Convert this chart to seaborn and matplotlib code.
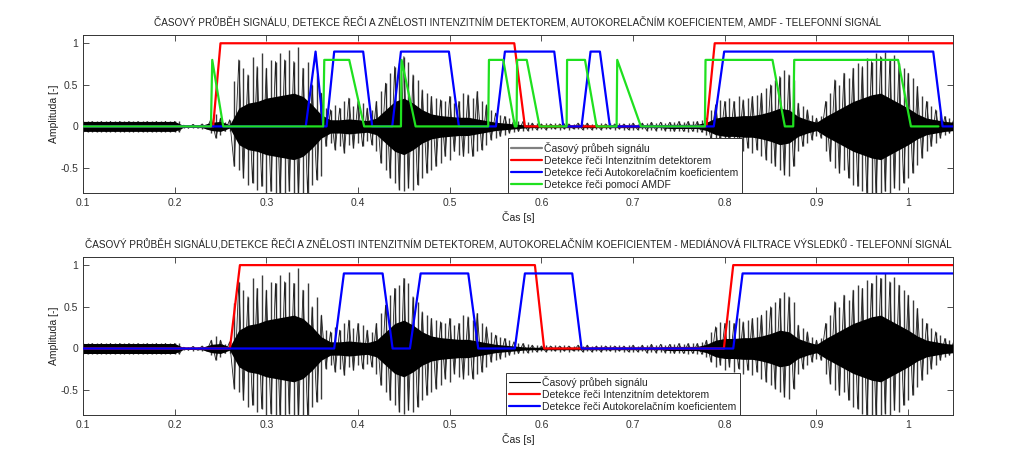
import numpy as np
import matplotlib
matplotlib.use("Agg")
import matplotlib.pyplot as plt
from matplotlib.lines import Line2D
import seaborn as sns


# ─── Signal envelope (same signal in both panels) ────────────────────────────
# spike tips, one value every 5 ms from 0.100 s to 1.050 s
SIG_UPPER = [
    0.06, 0.06, 0.06, 0.06, 0.06, 0.06, 0.06, 0.06, 0.06, 0.06,    # 0.100
    0.06, 0.06, 0.06, 0.06, 0.06, 0.06, 0.06, 0.06, 0.06, 0.06,    # 0.150
    0.06, 0.06, 0.015, 0.02, 0.025, 0.02, 0.03, 0.03, 0.10, 0.15,  # 0.200
    0.10, 0.05, 0.08, 0.55, 0.80, 0.70, 0.62, 0.84, 0.72, 0.88,    # 0.250
    0.70, 0.80, 0.78, 0.88, 0.80, 0.92, 0.78, 0.96, 0.70, 0.78,    # 0.300
    0.50, 0.62, 0.40, 0.22, 0.20, 0.26, 0.22, 0.30, 0.34, 0.24,    # 0.350
    0.30, 0.28, 0.22, 0.20, 0.30, 0.42, 0.52, 0.64, 0.72, 0.76,    # 0.400
    0.84, 0.78, 0.62, 0.56, 0.44, 0.40, 0.36, 0.34, 0.32, 0.30,    # 0.450
    0.36, 0.28, 0.30, 0.40, 0.38, 0.34, 0.42, 0.30, 0.26, 0.20,    # 0.500
    0.16, 0.14, 0.12, 0.10, 0.08, 0.07, 0.06, 0.05, 0.04, 0.04,    # 0.550
    0.03, 0.04, 0.03, 0.04, 0.03, 0.04, 0.03, 0.03, 0.04, 0.03,    # 0.600
    0.04, 0.03, 0.03, 0.04, 0.03, 0.04, 0.03, 0.04, 0.03, 0.04,    # 0.650
    0.04, 0.03, 0.04, 0.04, 0.05, 0.04, 0.05, 0.04, 0.05, 0.05,    # 0.700
    0.06, 0.05, 0.06, 0.07, 0.06, 0.08, 0.10, 0.20, 0.26, 0.32,    # 0.750
    0.30, 0.34, 0.30, 0.36, 0.32, 0.34, 0.36, 0.38, 0.40, 0.46,    # 0.800
    0.50, 0.56, 0.60, 0.68, 0.62, 0.56, 0.28, 0.24, 0.20, 0.14,    # 0.850
    0.10, 0.12, 0.30, 0.40, 0.56, 0.50, 0.64, 0.58, 0.70, 0.76,    # 0.900
    0.72, 0.82, 0.78, 0.88, 0.84, 0.90, 0.80, 0.86, 0.76, 0.70,    # 0.950
    0.64, 0.58, 0.48, 0.36, 0.30, 0.24, 0.20, 0.16, 0.12, 0.10,    # 1.000
    0.10,                                                          # 1.050
]
SIG_LOWER = [
    -0.065, -0.065, -0.065, -0.065, -0.065, -0.065, -0.065, -0.065, -0.065, -0.065,
    -0.065, -0.065, -0.065, -0.065, -0.065, -0.065, -0.065, -0.065, -0.065, -0.065,
    -0.065, -0.065, -0.02, -0.02, -0.025, -0.02, -0.03, -0.03, -0.08, -0.14,
    -0.10, -0.06, -0.06, -0.48, -0.52, -0.62, -0.70, -0.68, -0.76, -0.72,
    -0.85, -0.78, -0.85, -0.85, -0.80, -0.78, -0.85, -0.85, -0.85, -0.80,
    -0.70, -0.64, -0.60, -0.24, -0.20, -0.28, -0.24, -0.32, -0.22, -0.26,
    -0.20, -0.24, -0.18, -0.22, -0.30, -0.44, -0.52, -0.62, -0.68, -0.76,
    -0.78, -0.74, -0.76, -0.70, -0.62, -0.56, -0.52, -0.48, -0.44, -0.36,
    -0.40, -0.30, -0.34, -0.36, -0.32, -0.36, -0.30, -0.28, -0.22, -0.16,
    -0.14, -0.12, -0.10, -0.08, -0.07, -0.06, -0.05, -0.05, -0.04, -0.04,
    -0.03, -0.04, -0.03, -0.03, -0.04, -0.03, -0.04, -0.03, -0.03, -0.04,
    -0.03, -0.04, -0.03, -0.04, -0.03, -0.03, -0.04, -0.03, -0.04, -0.04,
    -0.04, -0.04, -0.03, -0.05, -0.04, -0.05, -0.04, -0.05, -0.05, -0.06,
    -0.05, -0.06, -0.07, -0.06, -0.07, -0.07, -0.10, -0.16, -0.22, -0.20,
    -0.26, -0.22, -0.28, -0.24, -0.30, -0.26, -0.32, -0.28, -0.36, -0.40,
    -0.44, -0.48, -0.52, -0.58, -0.60, -0.48, -0.30, -0.24, -0.20, -0.16,
    -0.12, -0.14, -0.30, -0.42, -0.50, -0.56, -0.52, -0.62, -0.70, -0.72,
    -0.78, -0.85, -0.85, -0.85, -0.85, -0.78, -0.85, -0.74, -0.76, -0.68,
    -0.62, -0.56, -0.46, -0.38, -0.30, -0.24, -0.20, -0.14, -0.10, -0.08,
    -0.08,
]
# dense black core, one value every 10 ms from 0.10 s to 1.05 s
SIG_CORE = [
    0.06, 0.06, 0.06, 0.06, 0.06, 0.06, 0.06, 0.06, 0.06, 0.06,    # 0.10
    0.06, 0.01, 0.012, 0.015, 0.05, 0.06, 0.02, 0.22, 0.28, 0.30,  # 0.20
    0.34, 0.36, 0.38, 0.40, 0.36, 0.26, 0.14, 0.08, 0.08, 0.09,    # 0.30
    0.08, 0.07, 0.10, 0.20, 0.30, 0.34, 0.28, 0.20, 0.15, 0.13,    # 0.40
    0.12, 0.11, 0.11, 0.09, 0.07, 0.05, 0.04, 0.03, 0.02, 0.015,   # 0.50
    0.015, 0.015, 0.015, 0.015, 0.015, 0.015, 0.015, 0.015, 0.015, 0.015,
    0.015, 0.015, 0.015, 0.015, 0.025, 0.025, 0.025, 0.025, 0.05, 0.10,
    0.12, 0.12, 0.13, 0.13, 0.15, 0.18, 0.22, 0.20, 0.12, 0.08,    # 0.80
    0.05, 0.12, 0.18, 0.24, 0.30, 0.34, 0.38, 0.40, 0.34, 0.28,    # 0.90
    0.22, 0.15, 0.10, 0.08, 0.06, 0.05,                            # 1.00
]

# ─── Detection curves (vertices of the plotted polylines) ────────────────────
RED_T = [0.1, 0.242, 0.250, 0.5704, 0.582, 0.780, 0.789, 1.049]
RED_V = [0, 0, 1, 1, 0, 0, 1, 1]

BLUE_T = [0.1, 0.343, 0.3537, 0.362, 0.3657, 0.374, 0.4056, 0.4155, 0.4373,
          0.4468, 0.4991, 0.510, 0.5504, 0.5602, 0.614, 0.6238, 0.6438,
          0.6536, 0.6638, 0.6747, 0.788, 0.7993, 1.0273, 1.0375, 1.049]
BLUE_V = [0, 0, 0.9, 0, 0, 0.9, 0.9, 0, 0, 0.9, 0.9, 0, 0, 0.9, 0.9, 0, 0,
          0.9, 0.9, 0, 0, 0.9, 0.9, 0, 0]

GREEN_T = [0.1, 0.2396, 0.241, 0.253, 0.362, 0.3632, 0.3904, 0.4067, 0.4468,
           0.4475, 0.4628, 0.542, 0.5428, 0.5584, 0.571, 0.5729, 0.5735,
           0.584, 0.598, 0.6275, 0.628, 0.6475, 0.6602, 0.682, 0.6827, 0.7085,
           0.7783, 0.779, 0.852, 0.8655, 0.8746, 0.8757, 0.989, 1.003, 1.033]
GREEN_V = [0, 0, 0.8, 0, 0, 0.8, 0.8, 0, 0, 0.8, 0, 0, 0.8, 0.8, 0, 0, 0.8,
           0.8, 0, 0, 0.8, 0.8, 0, 0, 0.8, 0, 0, 0.8, 0.8, 0, 0, 0.8, 0.8, 0, 0]

# median-filtered results (bottom panel)
RED_MF_T = [0.1, 0.2603, 0.2712, 0.5929, 0.603, 0.799, 0.8092, 1.049]
RED_MF_V = [0, 0, 1, 1, 0, 0, 1, 1]
BLUE_MF_T = [0.1, 0.374, 0.3846, 0.4268, 0.4377, 0.4566, 0.4683, 0.5202,
             0.5311, 0.571, 0.582, 0.6336, 0.6438, 0.8092, 0.8194, 1.049]
BLUE_MF_V = [0, 0, 0.9, 0.9, 0, 0, 0.9, 0.9, 0, 0, 0.9, 0.9, 0, 0, 0.9, 0.9]

TITLE_TOP = ("ČASOVÝ PRŮBĚH SIGNÁLU, DETEKCE ŘEČI A ZNĚLOSTI INTENZITNÍM DETEKTOREM, "
             "AUTOKORELAČNÍM KOEFICIENTEM, AMDF - TELEFONNÍ SIGNÁL")
TITLE_BOT = ("ČASOVÝ PRŮBĚH SIGNÁLU,DETEKCE ŘEČI A ZNĚLOSTI INTENZITNÍM DETEKTOREM, "
             "AUTOKORELAČNÍM KOEFICIENTEM - MEDIÁNOVÁ FILTRACE VÝSLEDKŮ - TELEFONNÍ SIGNÁL")
LEG_SIGNAL = "Časový průbeh signálu"
LEG_RED = "Detekce řeči Intenzitním detektorem"
LEG_BLUE = "Detekce řeči Autokorelačním koeficientem"
LEG_GREEN = "Detekce řeči pomocí AMDF"

X_TICKS = [0.1, 0.2, 0.3, 0.4, 0.5, 0.6, 0.7, 0.8, 0.9, 1.0]
Y_TICKS = [-0.5, 0, 0.5, 1]

RED, BLUE, GREEN = "#ff0000", "#0000ff", "#1fe01f"
FS = 7.5
FS_TITLE = 7.2

sns.set_style("ticks")
plt.rcParams["font.family"] = ["Liberation Sans", "DejaVu Sans"]

t_fine = np.linspace(0.1, 1.05, len(SIG_UPPER))
t_core = np.linspace(0.1, 1.05, len(SIG_CORE))
core = np.array(SIG_CORE)
# waveform trace: alternate between the read tips so the burst looks oscillating
zigzag = np.where(np.arange(len(SIG_UPPER)) % 2 == 0, SIG_UPPER, SIG_LOWER)


def draw_signal(ax):
    ax.vlines(t_fine, SIG_LOWER, SIG_UPPER, color="#3a3a3a", lw=1.0, zorder=1)
    ax.plot(t_fine, zigzag, color="#202020", lw=0.6, zorder=1.2)
    ax.fill_between(t_core, -core, core, color="black", lw=0, zorder=1.5)


def detection(ax, t, v, color):
    sns.lineplot(x=t, y=v, ax=ax, color=color, lw=1.6, estimator=None,
                 sort=False, legend=False, zorder=3)


def style_axes(ax, title):
    ax.set_xlim(0.1, 1.0488)
    ax.set_ylim(-0.8, 1.1)
    ax.set_xticks(X_TICKS)
    ax.set_xticklabels(["0.1", "0.2", "0.3", "0.4", "0.5", "0.6", "0.7", "0.8", "0.9", "1"])
    ax.set_yticks(Y_TICKS)
    ax.set_yticklabels(["-0.5", "0", "0.5", "1"])
    ax.tick_params(direction="in", length=4, width=0.6, labelsize=FS,
                   top=True, right=True, colors="#333333", labelcolor="#333333")
    for s in ax.spines.values():
        s.set_linewidth(0.7)
        s.set_color("#333333")
    ax.set_title(title, fontsize=FS_TITLE, color="#222222", pad=7)
    ax.set_ylabel("Amplituda [-]", fontsize=FS, color="#222222", labelpad=1)
    ax.set_xlabel("Čas [s]", fontsize=FS, color="#222222", labelpad=2)


fig = plt.figure(figsize=(10.24, 4.66), dpi=100)
ax1 = fig.add_axes([0.081, 0.586, 0.8496, 0.339])
ax2 = fig.add_axes([0.081, 0.109, 0.8496, 0.340])

# ── top panel ──
draw_signal(ax1)
detection(ax1, RED_T, RED_V, RED)
detection(ax1, BLUE_T, BLUE_V, BLUE)
detection(ax1, GREEN_T, GREEN_V, GREEN)
style_axes(ax1, TITLE_TOP)
h1 = [Line2D([], [], color="#808080", lw=1.6),
      Line2D([], [], color=RED, lw=1.6),
      Line2D([], [], color=BLUE, lw=1.6),
      Line2D([], [], color=GREEN, lw=1.6)]
leg1 = ax1.legend(h1, [LEG_SIGNAL, LEG_RED, LEG_BLUE, LEG_GREEN],
                  loc="lower left", bbox_to_anchor=(0.4885, 0.0), borderaxespad=0,
                  fontsize=FS, fancybox=False, framealpha=1, edgecolor="#333333",
                  handlelength=3.0, handletextpad=0.2, labelspacing=0.2,
                  borderpad=0.3)
leg1.get_frame().set_linewidth(0.7)
leg1.set_zorder(5)

# ── bottom panel ──
draw_signal(ax2)
detection(ax2, RED_MF_T, RED_MF_V, RED)
detection(ax2, BLUE_MF_T, BLUE_MF_V, BLUE)
style_axes(ax2, TITLE_BOT)
h2 = [Line2D([], [], color="black", lw=0.8),
      Line2D([], [], color=RED, lw=1.6),
      Line2D([], [], color=BLUE, lw=1.6)]
leg2 = ax2.legend(h2, [LEG_SIGNAL, LEG_RED, LEG_BLUE],
                  loc="lower left", bbox_to_anchor=(0.4862, 0.0), borderaxespad=0,
                  fontsize=FS, fancybox=False, framealpha=1, edgecolor="#333333",
                  handlelength=3.0, handletextpad=0.2, labelspacing=0.2,
                  borderpad=0.3)
leg2.get_frame().set_linewidth(0.7)
leg2.set_zorder(5)

fig.savefig("out.png", dpi=100, facecolor="white")
